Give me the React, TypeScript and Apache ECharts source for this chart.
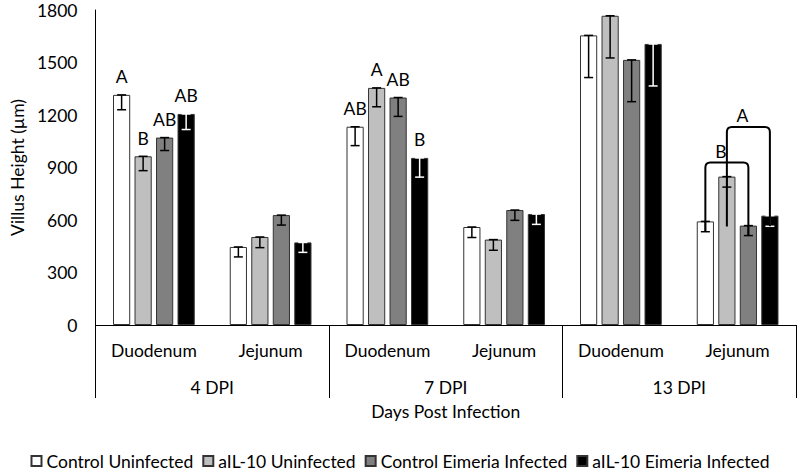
import React, { useEffect, useRef } from "react";
import * as echarts from "echarts";

const categories = ["Duodenum", "Jejunum", "Duodenum", "Jejunum", "Duodenum", "Jejunum"];
const groups = ["4 DPI", "7 DPI", "13 DPI"];
const seriesNames = [
  "Control Uninfected",
  "aIL-10 Uninfected",
  "Control Eimeria Infected",
  "aIL-10 Eimeria Infected",
];
const seriesColors = ["#ffffff", "#bfbfbf", "#808080", "#000000"];
const errorColors = ["#000000", "#000000", "#000000", "#ffffff"];

const controlUninfected = [1315, 446, 1133, 560, 1655, 592];
const ail10Uninfected = [964, 503, 1355, 488, 1767, 848];
const controlInfected = [1071, 628, 1300, 657, 1515, 568];
const ail10Infected = [1206, 472, 955, 634, 1606, 625];
const values = [controlUninfected, ail10Uninfected, controlInfected, ail10Infected];

const controlUninfectedErr = [85, 57, 108, 60, 241, 59];
const ail10UninfectedErr = [82, 61, 108, 61, 241, 60];
const controlInfectedErr = [74, 57, 108, 59, 239, 57];
const ail10InfectedErr = [89, 57, 110, 59, 240, 61];
const errors = [controlUninfectedErr, ail10UninfectedErr, controlInfectedErr, ail10InfectedErr];

const lettersCU = ["A", "", "AB", "", "", ""];
const lettersAU = ["B", "", "A", "", "", ""];
const lettersCI = ["AB", "", "AB", "", "", ""];
const lettersAI = ["AB", "", "B", "", "", ""];
const letters = [lettersCU, lettersAU, lettersCI, lettersAI];

// [category, seriesFrom, seriesTo, topValue, leftEndValue, rightEndValue]
const brackets = [
  [5, 0, 2, 928, 533, 511],
  [5, 1, 3, 1132, 563, 564],
];
const bracketLabels = ["B", "A"];

const yTicks = { min: 0, max: 1800, interval: 300 };

const FONT = "Lato";
const FS = 17.5;
const GAP_CAT = 0.3;
const GAP_BAR = 0.25;

function barOffset(band: number, s: number) {
  const w = (band * (1 - GAP_CAT)) / (4 + 3 * GAP_BAR);
  return { w, dx: (s - 1.5) * (1 + GAP_BAR) * w };
}

export default function App() {
  const ref = useRef<HTMLDivElement>(null);
  useEffect(() => {
    if (!ref.current) return;
    const chart = echarts.init(ref.current, null, { renderer: "svg" });

    const barSeries = values.map((vals, s) => ({
      name: seriesNames[s],
      type: "bar",
      xAxisIndex: 0,
      data: vals,
      barGap: GAP_BAR * 100 + "%",
      barCategoryGap: GAP_CAT * 100 + "%",
      itemStyle: { color: seriesColors[s], borderColor: "#333333", borderWidth: 1 },
      label: {
        show: true,
        position: "top",
        distance: 9,
        fontFamily: FONT,
        fontSize: FS,
        color: "#000",
        formatter: (p: any) => letters[s][p.dataIndex],
      },
      z: 2,
    }));

    const errData: number[][] = [];
    values.forEach((vals, s) =>
      vals.forEach((v, c) => errData.push([c, s, v, errors[s][c]]))
    );

    const errSeries = {
      type: "custom",
      xAxisIndex: 0,
      data: errData,
      encode: { x: 0, y: 2 },
      z: 5,
      silent: true,
      renderItem: (params: any, api: any) => {
        const c = api.value(0);
        const s = api.value(1);
        const v = api.value(2);
        const e = api.value(3);
        const band = api.size([1, 0])[0];
        const { dx } = barOffset(band, s);
        const x = api.coord([c, 0])[0] + dx;
        const y1 = api.coord([c, v])[1];
        const y2 = api.coord([c, v - e])[1];
        const cap = 4.5;
        const stroke = errorColors[s];
        const st = { stroke, lineWidth: 1.5 };
        return {
          type: "group",
          children: [
            { type: "line", shape: { x1: x, y1, x2: x, y2 }, style: st },
            { type: "line", shape: { x1: x - cap, y1, x2: x + cap, y2: y1 }, style: st },
            { type: "line", shape: { x1: x - cap, y1: y2, x2: x + cap, y2 }, style: st },
          ],
        };
      },
    };

    const bracketSeries = {
      type: "custom",
      xAxisIndex: 0,
      data: brackets,
      encode: { x: 0, y: 3 },
      z: 6,
      silent: true,
      renderItem: (params: any, api: any) => {
        const c = api.value(0);
        const s1 = api.value(1);
        const s2 = api.value(2);
        const band = api.size([1, 0])[0];
        const cx = api.coord([c, 0])[0];
        const xL = cx + barOffset(band, s1).dx;
        const xR = cx + barOffset(band, s2).dx;
        const yT = api.coord([c, api.value(3)])[1];
        const yL = api.coord([c, api.value(4)])[1];
        const yR = api.coord([c, api.value(5)])[1];
        const r = 5;
        const d =
          `M ${xL} ${yL} L ${xL} ${yT + r} Q ${xL} ${yT} ${xL + r} ${yT} ` +
          `L ${xR - r} ${yT} Q ${xR} ${yT} ${xR} ${yT + r} L ${xR} ${yR}`;
        return {
          type: "group",
          children: [
            {
              type: "path",
              shape: { pathData: d },
              style: { stroke: "#000", lineWidth: 2, fill: "none" },
            },
            {
              type: "text",
              x: (xL + xR) / 2 - 6,
              y: yT - 11,
              style: {
                text: bracketLabels[params.dataIndex],
                fontFamily: FONT,
                fontSize: FS,
                fill: "#000",
                align: "center",
                verticalAlign: "middle",
              },
            },
          ],
        };
      },
    };

    chart.setOption({
      animation: false,
      backgroundColor: "#ffffff",
      textStyle: { fontFamily: FONT },
      grid: { left: 82, right: 4, top: 10, bottom: 148, containLabel: false },
      legend: {
        data: seriesNames,
        top: 452,
        left: "center",
        padding: 0,
        itemWidth: 10,
        itemHeight: 10,
        itemGap: 9,
        icon: "rect",
        textStyle: { fontFamily: FONT, fontSize: FS, color: "#000" },
      },
      xAxis: [
        {
          type: "category",
          data: categories,
          position: "bottom",
          axisLine: { show: true, lineStyle: { color: "#000", width: 1 } },
          axisTick: { show: false },
          axisLabel: { margin: 16, fontFamily: FONT, fontSize: FS, color: "#000", interval: 0 },
          splitLine: { show: false },
        },
        {
          type: "category",
          data: groups,
          position: "bottom",
          axisLine: { show: false },
          axisTick: { show: true, interval: 0, length: 73, lineStyle: { color: "#000", width: 1 } },
          axisLabel: { margin: 53, fontFamily: FONT, fontSize: FS, color: "#000", interval: 0 },
          name: "Days Post Infection",
          nameLocation: "middle",
          nameGap: 77,
          nameTextStyle: { fontFamily: FONT, fontSize: FS, color: "#000" },
        },
      ],
      yAxis: {
        type: "value",
        min: yTicks.min,
        max: yTicks.max,
        interval: yTicks.interval,
        axisLine: { show: true, lineStyle: { color: "#000", width: 1 } },
        axisTick: { show: false },
        splitLine: { show: false },
        axisLabel: {
          margin: 18,
          fontFamily: FONT,
          fontSize: FS,
          color: "#000",
          formatter: (v: number) => String(v),
        },
        name: "Villus Height (µm)",
        nameLocation: "middle",
        nameGap: 66,
        nameTextStyle: { fontFamily: FONT, fontSize: FS, color: "#000" },
      },
      series: [...barSeries, errSeries, bracketSeries],
    });

    return () => chart.dispose();
  }, []);

  return <div ref={ref} style={{ width: 800, height: 473, position: "absolute", left: 0, top: 0 }} />;
}
